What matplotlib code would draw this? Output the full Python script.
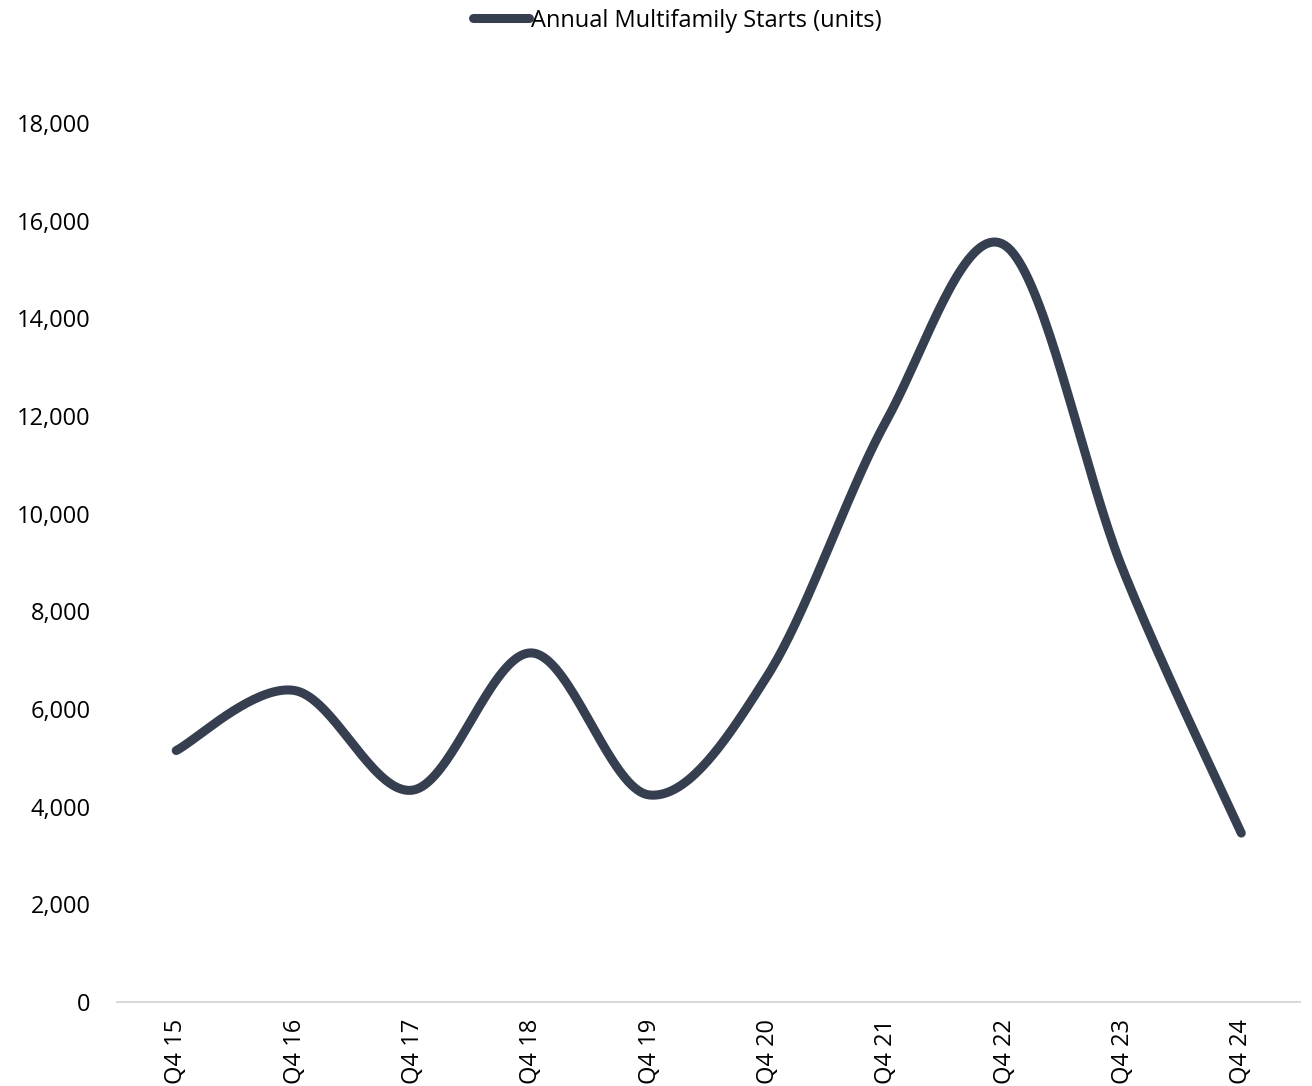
import matplotlib.pyplot as plt
import numpy as np
from matplotlib.ticker import FuncFormatter

plt.rcParams['font.family'] = ['Open Sans', 'DejaVu Sans']

quarters = ["Q4 15", "Q4 16", "Q4 17", "Q4 18", "Q4 19",
            "Q4 20", "Q4 21", "Q4 22", "Q4 23", "Q4 24"]
starts = [5150, 6380, 4340, 7150, 4240, 6700, 11900, 15500, 8850, 3460]

line_color = "#363f4f"

# smoothed line like Excel (cubic bezier through the points)
def smooth(x, y, n=40):
    x = np.asarray(x, float)
    y = np.asarray(y, float)
    px = np.concatenate([[x[0]], x, [x[-1]]])
    py = np.concatenate([[y[0]], y, [y[-1]]])
    xs, ys = [], []
    t = np.linspace(0, 1, n)
    for i in range(1, len(px) - 2):
        p0 = np.array([px[i], py[i]])
        p3 = np.array([px[i + 1], py[i + 1]])
        p1 = p0 + (np.array([px[i + 1], py[i + 1]]) - np.array([px[i - 1], py[i - 1]])) / 6
        p2 = p3 - (np.array([px[i + 2], py[i + 2]]) - np.array([px[i], py[i]])) / 6
        b = ((1 - t) ** 3)[:, None] * p0 + (3 * (1 - t) ** 2 * t)[:, None] * p1 \
            + (3 * (1 - t) * t ** 2)[:, None] * p2 + (t ** 3)[:, None] * p3
        xs.extend(b[:, 0])
        ys.extend(b[:, 1])
    return np.array(xs), np.array(ys)

xpos = np.arange(len(quarters))
sx, sy = smooth(xpos, starts)

fig = plt.figure(figsize=(13.12, 10.86), dpi=100)
ax = fig.add_axes([0.0892, 0.0773, 0.902, 0.8094])

ax.plot(sx, sy, color=line_color, linewidth=6.5, solid_capstyle="round",
        label="Annual Multifamily Starts (units)")

ax.set_xlim(-0.5, len(quarters) - 0.5)
ax.set_ylim(0, 18000)
ax.set_yticks(np.arange(0, 18001, 2000))
ax.yaxis.set_major_formatter(FuncFormatter(lambda v, p: f"{int(v):,}"))
ax.set_xticks(xpos)
ax.set_xticklabels(quarters, rotation=90)

for s in ["top", "right", "left"]:
    ax.spines[s].set_visible(False)
ax.spines["bottom"].set_color("#d9d9d9")
ax.spines["bottom"].set_linewidth(1.5)
ax.tick_params(axis="both", length=0, labelsize=17, colors="#000000")
ax.tick_params(axis="y", pad=19)
ax.tick_params(axis="x", pad=12)

leg = fig.legend(loc="center", bbox_to_anchor=(0.516, 0.981), frameon=False,
                 fontsize=17, handlelength=2.4, handletextpad=0.05)

fig.savefig("out.png", dpi=100)
